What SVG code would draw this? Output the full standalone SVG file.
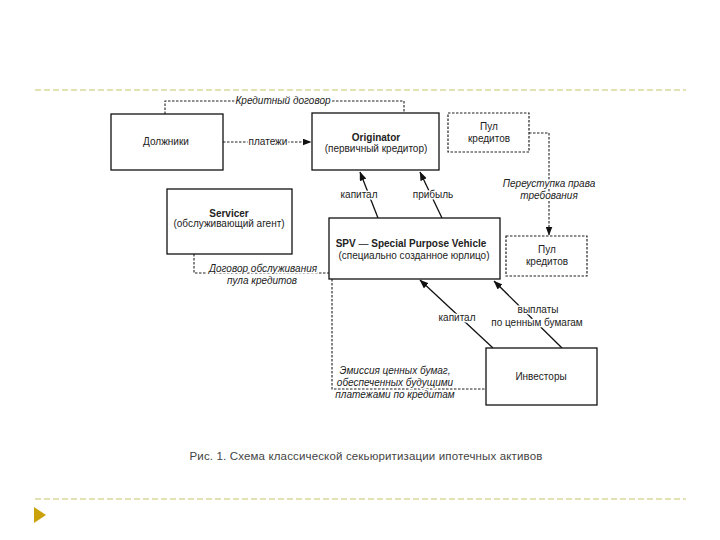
<svg xmlns="http://www.w3.org/2000/svg" width="720" height="540" viewBox="0 0 720 540">
<defs>
<marker id="arr" markerWidth="9" markerHeight="7" refX="8.5" refY="3.5" orient="auto" markerUnits="userSpaceOnUse">
<path d="M0,0 L9,3.5 L0,7 Z" fill="#111"/>
</marker>
</defs>
<style>
.box{fill:#fff;stroke:#111;stroke-width:1.3}
.dbox{fill:#fff;stroke:#222;stroke-width:1.2;stroke-dasharray:2.5,1.5}
.t{font-family:"Liberation Sans",Arial,sans-serif;font-size:10px;fill:#222;text-anchor:middle}
.b{font-weight:bold}
.i{font-style:italic}
.halo{stroke:#fff;stroke-width:3;paint-order:stroke;stroke-linejoin:round}
.dash{fill:none;stroke:#222;stroke-width:1.1;stroke-dasharray:2.5,1.5}
.solid{fill:none;stroke:#111;stroke-width:1.3}
.rule{stroke:#c4c46a;stroke-width:1;stroke-dasharray:6,3}
</style>
<rect width="720" height="540" fill="#fff"/>
<line class="rule" x1="35" y1="90" x2="686" y2="90"/>
<line class="rule" x1="35" y1="499" x2="686" y2="499"/>
<polygon points="34,507 46,515 34,523" fill="#c9a20c"/>

<g id="connectors">
<path class="dash" d="M165,114 V101 H404 V113"/>
<path class="dash" d="M223,142 H311" marker-end="url(#arr)"/>
<path class="dash" d="M529,133 H549 V235" marker-end="url(#arr)"/>
<path class="dash" d="M194,254 V273 H329"/>
<path class="dash" d="M332,279 V389 H486"/>
<path class="solid" d="M378,218 L360,172" marker-end="url(#arr)"/>
<path class="solid" d="M442,218 L420,172" marker-end="url(#arr)"/>
<path class="solid" d="M493,348 L420,280" marker-end="url(#arr)"/>
<path class="solid" d="M562,348 L494,281" marker-end="url(#arr)"/>
<text class="t i halo" x="283" y="104">Кредитный договор</text>
<text class="t halo" x="268" y="145">платежи</text>
<text class="t i halo" x="549" y="187">Переуступка права</text>
<text class="t i halo" x="549" y="199">требования</text>
<text class="t halo" x="359" y="198">капитал</text>
<text class="t halo" x="433" y="198">прибыль</text>
<text class="t i halo" x="263" y="272">Договор обслуживания</text>
<text class="t i halo" x="262" y="284">пула кредитов</text>
<text class="t i halo" x="395" y="374">Эмиссия ценных бумаг,</text>
<text class="t i halo" x="395" y="386">обеспеченных будущими</text>
<text class="t i halo" x="395" y="398">платежами по кредитам</text>
<text class="t halo" x="457" y="321">капитал</text>
<text class="t halo" x="538" y="313">выплаты</text>
<text class="t halo" x="537" y="326">по ценным бумагам</text>
</g>

<g id="debtors">
<rect class="box" x="111" y="114" width="112" height="56"/>
<text class="t" x="166" y="145">Должники</text>
</g>
<g id="originator">
<rect class="box" x="312" y="113" width="127" height="57"/>
<text class="t b" x="376" y="141">Originator</text>
<text class="t" x="376" y="152">(первичный кредитор)</text>
</g>
<g id="pool-top">
<rect class="dbox" x="448" y="113" width="81" height="39"/>
<text class="t" x="489" y="130">Пул</text>
<text class="t" x="489" y="142">кредитов</text>
</g>
<g id="servicer">
<rect class="box" x="167" y="189" width="125" height="65"/>
<text class="t b" x="229" y="217">Servicer</text>
<text class="t" x="229" y="227">(обслуживающий агент)</text>
</g>
<g id="spv">
<rect class="box" x="329" y="218" width="171" height="61"/>
<text class="t" x="411" y="247"><tspan class="b">SPV</tspan>  —  <tspan class="b">Special Purpose Vehicle</tspan></text>
<text class="t" x="414" y="259">(специально созданное юрлицо)</text>
</g>
<g id="pool-bottom">
<rect class="dbox" x="506" y="236" width="81" height="40"/>
<text class="t" x="547" y="253">Пул</text>
<text class="t" x="547" y="265">кредитов</text>
</g>
<g id="investors">
<rect class="box" x="486" y="348" width="111" height="57"/>
<text class="t" x="541" y="380">Инвесторы</text>
</g>
<text x="366" y="460" font-family="Liberation Sans, Arial, sans-serif" font-size="11.5" letter-spacing="0.15" fill="#444" text-anchor="middle">Рис. 1. Схема классической секьюритизации ипотечных активов</text>
</svg>
